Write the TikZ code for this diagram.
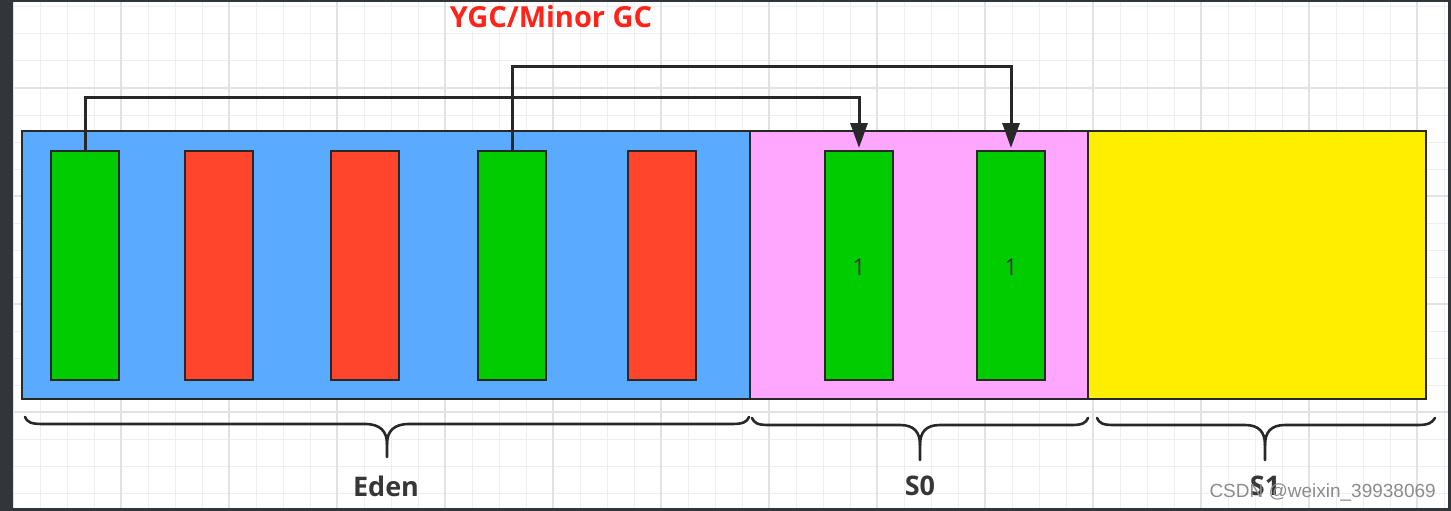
\documentclass[tikz,border=0pt]{standalone}
\usepackage{fontspec}
\setmainfont{Open Sans}
\newfontfamily\wmfont{Liberation Sans}
\usetikzlibrary{arrows.meta,calc}
\definecolor{edenblue}{RGB}{90,170,255}
\definecolor{s0pink}{RGB}{255,166,255}
\definecolor{s1yellow}{RGB}{255,238,0}
\definecolor{objgreen}{RGB}{0,204,0}
\definecolor{objred}{RGB}{255,70,45}
\definecolor{ink}{RGB}{40,40,40}
\definecolor{labelgray}{RGB}{55,55,55}
\definecolor{framecol}{RGB}{50,54,58}
\definecolor{gridminor}{RGB}{238,238,238}
\definecolor{gridmajor}{RGB}{226,226,226}
\definecolor{titlered}{RGB}{255,35,25}
\definecolor{wmgray}{RGB}{140,140,140}
\tikzset{
  area/.style={draw=ink,line width=2.5pt,inner sep=0pt,outer sep=0pt,minimum height=268pt},
  obj/.style={draw=ink,line width=2pt,inner sep=0pt,outer sep=0pt,minimum width=68pt,minimum height=229pt},
  move/.style={draw=ink,line width=3pt,-{Triangle[length=25pt,width=17pt]},shorten >=3pt},
  bracepath/.style={draw=ink,line width=2.6pt,line cap=round,line join=round},
  partlabel/.style={font=\bfseries\fontsize{27}{30}\selectfont,text=labelgray,inner sep=0pt},
  countlabel/.style={font=\fontsize{23}{25}\selectfont,text=labelgray,inner sep=0pt}
}
\begin{document}
\begin{tikzpicture}[x=1pt,y=-1pt]
\useasboundingbox (0,0) rectangle (1451,511);
\fill[white] (0,0) rectangle (1451,511);
% grid
\foreach \i in {0,...,53} \draw[gridminor,line width=1pt] ({13+27*\i},0) -- ({13+27*\i},511);
\foreach \j in {0,...,18} \draw[gridminor,line width=1pt] (0,{7+27*\j}) -- (1451,{7+27*\j});
\foreach \i in {0,...,13} \draw[gridmajor,line width=1.2pt] ({13+108*\i},0) -- ({13+108*\i},511);
\foreach \j in {0,...,4} \draw[gridmajor,line width=1.2pt] (0,{88+108*\j}) -- (1451,{88+108*\j});

% areas
\node[area,fill=edenblue,minimum width=728pt] (eden) at (386,265) {};
\node[area,fill=s0pink,minimum width=338pt] (s0) at (919,265) {};
\node[area,fill=s1yellow,minimum width=338pt] (s1) at (1257,265) {};

% objects
\node[obj,fill=objgreen] (g1) at (85,265.5) {};
\node[obj,fill=objred] (r1) at (219,265.5) {};
\node[obj,fill=objred] (r2) at (365,265.5) {};
\node[obj,fill=objgreen] (g2) at (512,265.5) {};
\node[obj,fill=objred] (r3) at (662,265.5) {};
\node[obj,fill=objgreen] (s0a) at (859,265.5) {};
\node[obj,fill=objgreen] (s0b) at (1011,265.5) {};
\node[countlabel] (c1) at (859,267) {1};
\node[countlabel] (c2) at (1011,267) {1};

% title
\node[font=\bfseries\fontsize{29}{32}\selectfont,text=titlered,inner sep=0pt] (title) at (551,17) {YGC/Minor GC};

% copy arrows
\coordinate (lvlA) at (0,97);
\coordinate (lvlB) at (0,67);
\draw[move] (g1.north) -- (g1.north |- lvlA) -- (s0a.north |- lvlA) -- (s0a.north);
\draw[move] (g2.north) -- (g2.north |- lvlB) -- (s0b.north |- lvlB) -- (s0b.north);

% braces
\draw[bracepath] (25,417) .. controls (27,422) and (31,424) .. (42,424) -- (365,424)
  .. controls (380,424) and (387,431) .. (387,444) -- (387,457);
\draw[bracepath] (387,444) .. controls (387,431) and (394,424) .. (409,424) -- (732,424)
  .. controls (743,424) and (747,422) .. (749,417);
\draw[bracepath] (752,418) .. controls (754,423) and (758,425) .. (768,425) -- (900,425)
  .. controls (914,425) and (920,432) .. (920,445) -- (920,460);
\draw[bracepath] (920,445) .. controls (920,432) and (926,425) .. (940,425) -- (1072,425)
  .. controls (1082,425) and (1086,423) .. (1088,418);
\draw[bracepath] (1097,418) .. controls (1099,423) and (1103,425) .. (1113,425) -- (1245,425)
  .. controls (1259,425) and (1265,432) .. (1265,445) -- (1265,460);
\draw[bracepath] (1265,445) .. controls (1265,432) and (1271,425) .. (1285,425) -- (1418,425)
  .. controls (1428,425) and (1432,423) .. (1435,418);

% labels
\node[partlabel] (edenlbl) at (386,486) {Eden};
\node[partlabel] (s0lbl) at (920,486) {S0};
\node[partlabel] (s1lbl) at (1265,486) {S1};

% watermark
\node[font=\wmfont\fontsize{19}{21}\selectfont,text=wmgray,inner sep=0pt,anchor=east] (wm) at (1436,492) {CSDN @weixin\_39938069};

% screen frame
\fill[framecol] (0,0) rectangle (13,511);
\fill[framecol] (0,0) rectangle (1451,2);
\fill[framecol] (0,508) rectangle (1451,511);
\fill[framecol] (1448,0) rectangle (1451,511);
\end{tikzpicture}
\end{document}
